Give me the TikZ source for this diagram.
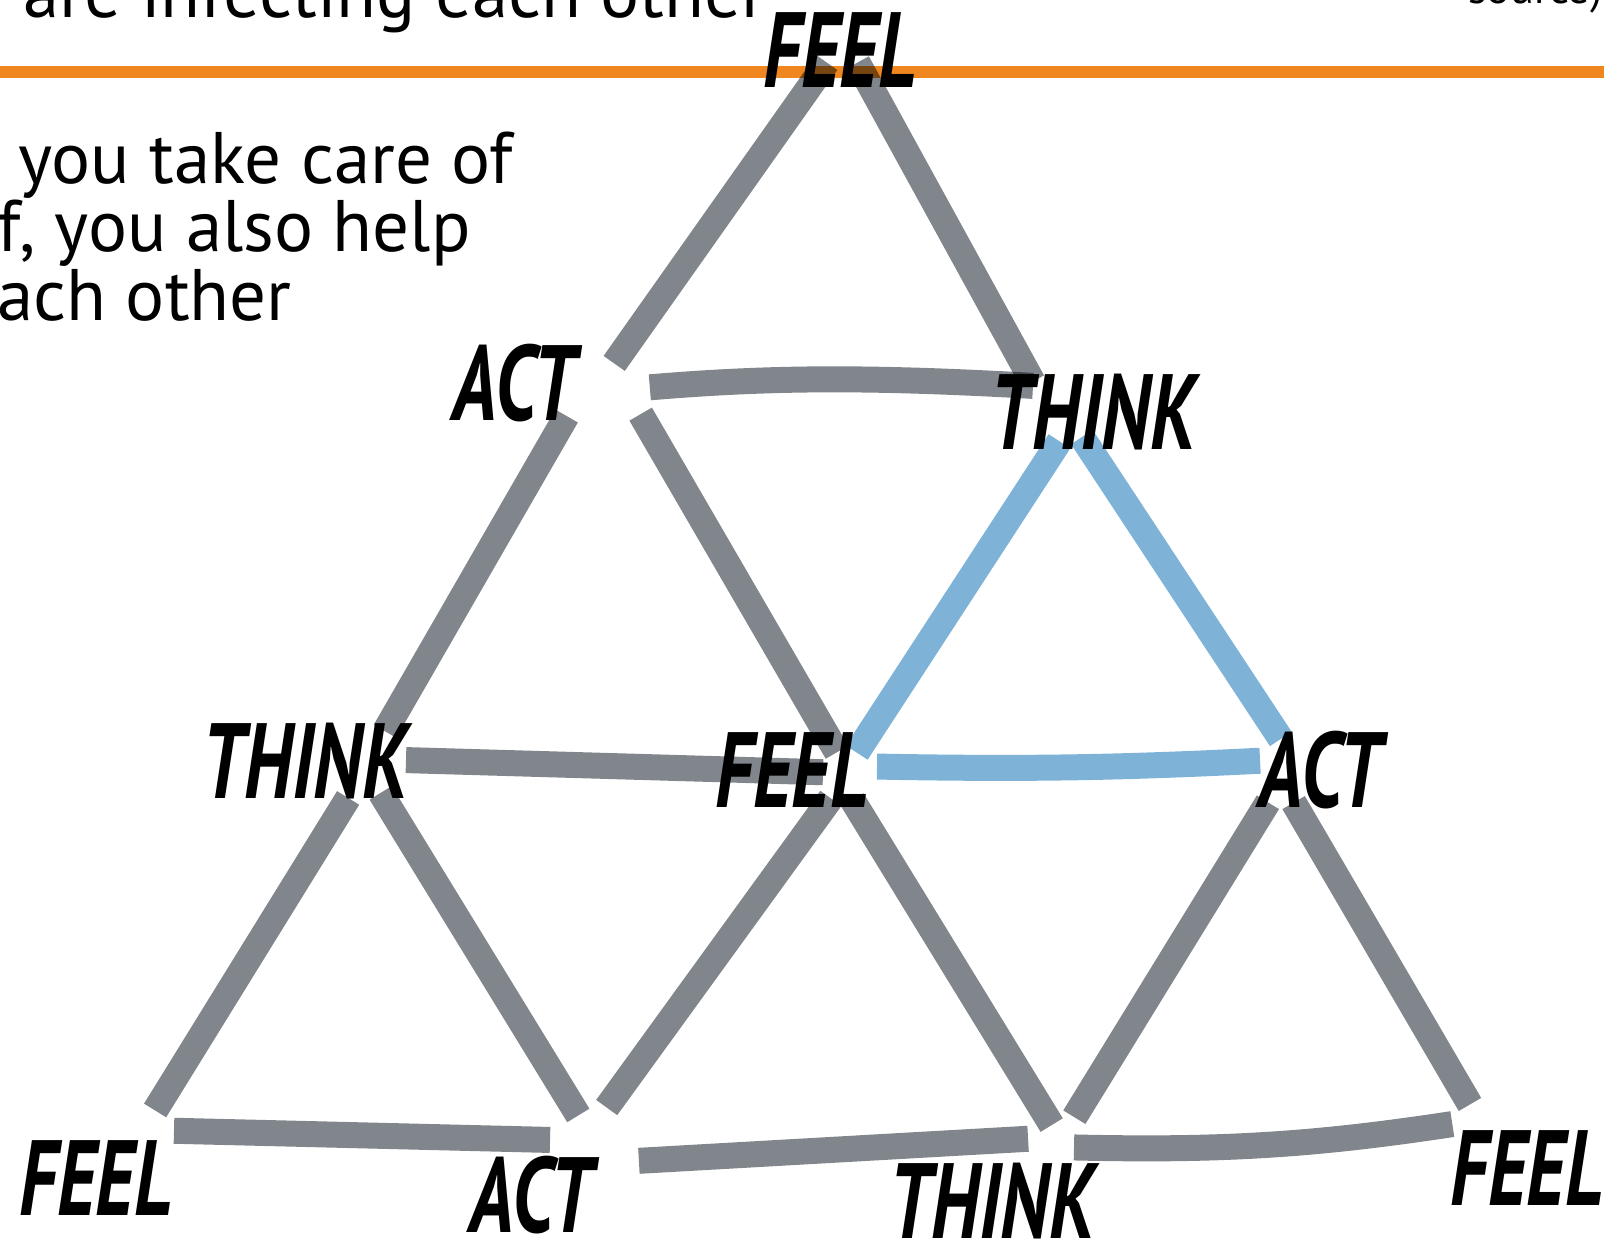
\documentclass[tikz,border=0pt]{standalone}
\usepackage{fontspec}
\setmainfont{PT Sans}
\newfontfamily\brushfont{PT Sans}[FakeStretch=0.72]
\definecolor{barorange}{HTML}{EF861F}
\definecolor{edgegray}{HTML}{80868B}
\definecolor{hiblue}{HTML}{7EB3D7}
\begin{document}
\begin{tikzpicture}[x=0.5pt,y=-0.5pt]
                \tikzset{
                    edge/.style={draw=edgegray, line width=13pt},
                    hiedge/.style={draw=hiblue, line width=13pt},
                    word/.style={font=\brushfont\bfseries\itshape\fontsize{53.5}{60}\selectfont, inner sep=0pt},
                    body/.style={font=\fontsize{36.5}{32.5}\selectfont, inner sep=0pt}
                }
                \useasboundingbox (0,0) rectangle (1604,1241);
                \clip (0,0) rectangle (1604,1241);

                % header
                \node[body, anchor=base west] (title) at (23,18) {are infecting each other};
                \node[body, anchor=base east, font=\fontsize{22}{26}\selectfont] (src) at (1603,4) {source)};
                \fill[barorange] (0,66) rectangle (1604,78);

                % base of a multi-line node is its last line
                \node[body, anchor=base west, align=left] (bodyText) at (-3,320)
                    {\hspace*{10.5pt}you take care of\\f, you also help\\ach other};

                % corners of the six triangles
                \coordinate (t1p) at (844,38);   \coordinate (t1l) at (594,392);  \coordinate (t1r) at (1035,386);
                \coordinate (t2p) at (604,351);  \coordinate (t2l) at (369,759);  \coordinate (t2r) at (849,773);
                \coordinate (t3p) at (1072,422); \coordinate (t3l) at (848,766);  \coordinate (t3r) at (1294,759);
                \coordinate (t4p) at (366,769);  \coordinate (t4l) at (143,1130); \coordinate (t4r) at (594,1141);
                \coordinate (t5p) at (842,783);  \coordinate (t5l) at (565,1165); \coordinate (t5r) at (1059,1137);
                \coordinate (t6p) at (1281,781); \coordinate (t6l) at (1056,1147); \coordinate (t6r) at (1479,1120);

                \begin{scope}[blend mode=multiply]
                \draw[edge, shorten <=15pt, shorten >=17.5pt] (t1p) -- (t1l);
                \draw[edge, shorten <=14pt, shorten >=2.5pt] (t1p) -- (t1r);
                \draw[edge, shorten <=28pt, shorten >=1pt] (t1l) to[bend left=4] (t1r);

                \draw[edge, shorten <=37.5pt, shorten >=16pt] (t2p) -- (t2l);
                \draw[edge, shorten <=36.5pt, shorten >=12pt] (t2p) -- (t2r);
                \draw[edge, shorten <=18.5pt, shorten >=13pt] (t2l) -- (t2r);

                \draw[hiedge, shorten <=11.5pt, shorten >=8pt] (t3p) -- (t3l);
                \draw[hiedge, shorten <=9pt, shorten >=12pt] (t3p) -- (t3r);
                \draw[hiedge, shorten <=14.5pt, shorten >=17pt] (t3l) to[bend right=2] (t3r);

                \draw[edge, shorten <=17pt, shorten >=11.5pt] (t4p) -- (t4l);
                \draw[edge, shorten <=14pt, shorten >=15pt] (t4p) -- (t4r);
                \draw[edge, shorten <=15.5pt, shorten >=22pt] (t4l) -- (t4r);

                \draw[edge, shorten <=9.5pt, shorten >=35.5pt] (t5p) -- (t5l);
                \draw[edge, shorten <=10pt, shorten >=7pt] (t5p) -- (t5r);
                \draw[edge, shorten <=37pt, shorten >=15.5pt] (t5l) -- (t5r);

                \draw[edge, shorten <=12.5pt, shorten >=17.5pt] (t6p) -- (t6l);
                \draw[edge, shorten <=12.5pt, shorten >=9pt] (t6p) -- (t6r);
                \draw[edge, shorten <=9pt, shorten >=13.5pt] (t6l) to[bend right=5] (t6r);
                \end{scope}

                % labels
                \node[word] (feelTop) at (840,50) {FEEL};
                \node[word] (actUp) at (514,383) {ACT};
                \node[word] (thinkUp) at (1093,412) {THINK};
                \node[word] (thinkMid) at (305,761) {THINK};
                \node[word] (feelMid) at (792,770) {FEEL};
                \node[word] (actMid) at (1320,770) {ACT};
                \node[word] (feelLow) at (96,1178) {FEEL};
                \node[word] (actLow) at (531,1195) {ACT};
                \node[word] (thinkLow) at (992,1201) {THINK};
                \node[word] (feelEnd) at (1527,1168) {FEEL};
            \end{tikzpicture}
\end{document}
